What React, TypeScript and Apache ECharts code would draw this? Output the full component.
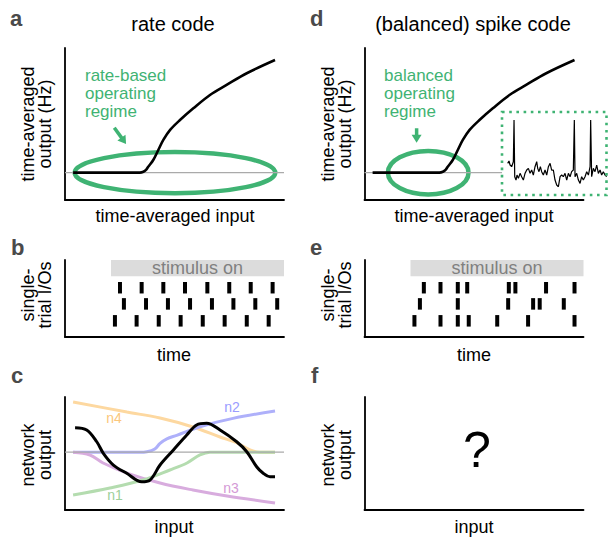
import React, { useEffect, useRef } from "react";
import * as echarts from "echarts";

const FONT = '"Liberation Sans", Arial, Helvetica, sans-serif';
const GREEN = "#3fb373";

// transfer curve (panels a and d)
const ioInput = [3.7, 34.2, 35.8, 37.0, 38.0, 40.3, 42.6, 44.9, 48.0, 52.5, 58.6, 66.2, 73.8, 83.0, 95.9];
const ioOutput = [18, 18, 18.6, 19.8, 21.9, 26.3, 32.9, 39.5, 46.1, 52.6, 60.3, 69.1, 75.7, 83.4, 92.1];
const restLevel = 18;
const baselineA = [0, 100];
const baselineD = [0, 62.8];

// membrane trace inset (panel d)
const vmTime = [0, 1.3, 2.4, 4.0, 5.7, 6.4, 7.1, 8.4, 9.4, 10.8, 12.5, 14.1, 15.8, 17.5, 19.2, 20.9, 22.6, 24.2, 25.9, 27.6, 29.3, 30.3, 31.6, 33.0, 34.3, 36.0, 37.7, 39.4, 41.1, 42.8, 44.4, 46.1, 47.8, 49.5, 51.2, 52.9, 54.5, 56.2, 57.9, 59.6, 61.3, 63.0, 64.6, 66.3, 67.3, 68.0, 69.7, 71.4, 73.1, 74.7, 76.4, 78.1, 79.8, 81.5, 83.2, 83.8, 84.8, 86.5, 88.2, 89.9, 91.6, 93.3, 94.9, 96.6, 98.3, 100];
const vmValue = [35, 38.5, 32.5, 30, 37.5, 100, 15, 10, 17.5, 12.5, 20, 15, 10, 20, 25, 27.5, 20, 25, 17.5, 30, 37.5, 27.5, 22.5, 30, 22.5, 17.5, 25, 17.5, 30, 35, 25, 25, 10, 2.5, 0, 15, 17.5, 15, 20, 10, 20, 15, 22.5, 25, 100, 15, 20, 10, 5, 15, 10, 15, 22.5, 17.5, 30, 100, 15, 27.5, 22.5, 32.5, 20, 25, 17.5, 22.5, 17.5, 15];

// spike rasters (panels b and e)
const trialLevels = [64, 43, 21];
const rateRow1 = [25.1, 35.0, 44.9, 54.8, 65.0, 75.0, 84.8, 94.8];
const rateRow2 = [26.9, 37.0, 47.0, 57.1, 67.1, 76.9, 86.9, 96.9];
const rateRow3 = [22.8, 32.7, 42.8, 52.8, 62.9, 72.9, 83.0, 93.0];
const spikeRow1 = [27.1, 34.7, 42.6, 46.9, 65.9, 68.9, 82.9, 95.9];
const spikeRow2 = [25.3, 42.6, 65.6, 77.0, 80.0, 91.0];
const spikeRow3 = [22.8, 34.7, 42.6, 47.6, 60.6, 74.7, 95.9];
const stimulusStart = 21;

// network output (panel c)
const n4Points = [[3.7, 95.6], [28.3, 86.7], [43.4, 81.4], [58.4, 73.5], [70.8, 64.6], [78.5, 59.3], [84.5, 53.1], [89.0, 51.2], [95.9, 51.2]];
const n2Points = [[3.7, 51], [34, 51], [37.4, 51.5], [41, 54], [43.4, 58.9], [46.5, 63], [51, 66.1], [61.6, 73.7], [76.7, 81.1], [95.9, 87.6]];
const n3Points = [[3.7, 51.2], [11.4, 48.7], [17.4, 41.6], [28.3, 32.7], [43.4, 23.9], [58.4, 17.7], [74, 12.4], [95.9, 6.2]];
const n1Points = [[3.7, 13.3], [20.5, 19.5], [35.6, 26.5], [47.9, 35.4], [55.7, 41.6], [61.6, 48.7], [66.2, 51.2], [95.9, 51.2]];
const netPoints = [[4.6, 72.8], [9.9, 70.8], [14.5, 60.4], [17.5, 50.2], [22.1, 39.8], [28.2, 32.5], [35.0, 25.0], [38.8, 26.5], [43.4, 39.8], [49.5, 53.1], [55.6, 66.4], [60.1, 75.2], [64.7, 76.7], [70.8, 70.8], [78.4, 60.4], [83.0, 51.6], [87.5, 38.3], [90.5, 32.5], [93.6, 29.5], [95.9, 29.5]];
const netBaseline = 51.2;

const grids = [
  { left: 65, top: 48, width: 219, height: 152 },
  { left: 364.5, top: 48, width: 219, height: 152 },
  { left: 65, top: 260, width: 219, height: 77 },
  { left: 364.5, top: 260, width: 219, height: 77 },
  { left: 65, top: 397, width: 219, height: 113 },
  { left: 364.5, top: 397, width: 219, height: 113 },
  { left: 507.7, top: 120, width: 99, height: 66.7 },
];

function axis(i: number) {
  return {
    gridIndex: i,
    type: "value",
    min: 0,
    max: 100,
    show: i < 6,
    axisLine: { onZero: false, lineStyle: { color: "#000", width: 1.8 } },
    axisTick: { show: false },
    axisLabel: { show: false },
    splitLine: { show: false },
  };
}

function line(g: number, data: number[][], color: string, width: number, smooth: number | boolean = 0.35) {
  return {
    type: "line",
    xAxisIndex: g,
    yAxisIndex: g,
    data,
    smooth,
    symbol: "none",
    silent: true,
    lineStyle: { color, width },
  };
}

function raster(g: number, row: number[], level: number, withStim: boolean) {
  const s: any = {
    type: "scatter",
    xAxisIndex: g,
    yAxisIndex: g,
    symbol: "rect",
    symbolSize: [4, 11.5],
    silent: true,
    itemStyle: { color: "#000", opacity: 1 },
    data: row.map((x) => [x, level]),
  };
  if (withStim) {
    s.markArea = {
      silent: true,
      itemStyle: { color: "#dcdcdc", opacity: 1 },
      label: { show: true, position: "inside", color: "#808080", fontSize: 18, fontFamily: FONT, formatter: "stimulus on" },
      data: [[{ coord: [stimulusStart, 79] }, { coord: [100, 100] }]],
    };
  }
  return s;
}

function buildOption() {
  const curve = ioInput.map((x, i) => [x, ioOutput[i]]);
  const series: any[] = [
    line(0, baselineA.map((x) => [x, restLevel]), "#aaaaaa", 1.2, false),
    line(0, curve, "#000", 2.6),
    line(1, baselineD.map((x) => [x, restLevel]), "#aaaaaa", 1.2, false),
    line(1, curve, "#000", 2.6),
    raster(2, rateRow1, trialLevels[0], true),
    raster(2, rateRow2, trialLevels[1], false),
    raster(2, rateRow3, trialLevels[2], false),
    raster(3, spikeRow1, trialLevels[0], true),
    raster(3, spikeRow2, trialLevels[1], false),
    raster(3, spikeRow3, trialLevels[2], false),
    line(4, n4Points, "#fdd8a0", 3),
    line(4, n2Points, "#aeb0fa", 3),
    line(4, n3Points, "#d8acde", 3),
    line(4, n1Points, "#b4dcaf", 3),
    line(4, [[0, netBaseline], [100, netBaseline]], "#aaaaaa", 1.2, false),
    line(4, netPoints, "#000", 3),
    line(6, vmTime.map((t, i) => [t, vmValue[i]]), "#000", 1.2, false),
  ];
  return {
    animation: false,
    backgroundColor: "#fff",
    grid: grids,
    xAxis: grids.map((_, i) => axis(i)),
    yAxis: grids.map((_, i) => axis(i)),
    series,
  };
}

function text(x: number, y: number, t: string, size: number, fill = "#000", opts: any = {}) {
  return {
    type: "text",
    x,
    y,
    rotation: opts.rotation || 0,
    z: 10,
    silent: true,
    style: {
      text: t,
      fontSize: size,
      fontFamily: FONT,
      fontWeight: opts.bold ? "bold" : "normal",
      fill,
      align: opts.align || "center",
      verticalAlign: "middle",
      lineHeight: opts.lineHeight || size,
    },
  };
}

function buildGraphics(chart: any) {
  const toPx = (g: number, p: number[]) => chart.convertToPixel({ gridIndex: g }, p) as number[];
  const els: any[] = [];
  const L = "#4a4a4a";
  // panel letters
  els.push(text(10, 18, "a", 22, L, { bold: true, align: "left" }));
  els.push(text(310, 18, "d", 22, L, { bold: true, align: "left" }));
  els.push(text(11, 247, "b", 22, L, { bold: true, align: "left" }));
  els.push(text(310, 247, "e", 22, L, { bold: true, align: "left" }));
  els.push(text(11, 375, "c", 22, L, { bold: true, align: "left" }));
  els.push(text(311, 375, "f", 22, L, { bold: true, align: "left" }));
  // titles
  els.push(text(173, 24, "rate code", 20));
  els.push(text(473, 24, "(balanced) spike code", 20));
  // x labels
  els.push(text(175, 216, "time-averaged input", 18));
  els.push(text(474, 216, "time-averaged input", 18));
  els.push(text(174, 355, "time", 18));
  els.push(text(474, 355, "time", 18));
  els.push(text(174, 527, "input", 18));
  els.push(text(474, 527, "input", 18));
  // y labels
  const rot = { rotation: Math.PI / 2, lineHeight: 17 };
  els.push(text(36, 124, "time-averaged\noutput (Hz)", 18, "#000", rot));
  els.push(text(336, 124, "time-averaged\noutput (Hz)", 18, "#000", rot));
  els.push(text(36, 295, "single-\ntrial I/Os", 18, "#000", rot));
  els.push(text(336, 295, "single-\ntrial I/Os", 18, "#000", rot));
  els.push(text(36, 455, "network\noutput", 18, "#000", rot));
  els.push(text(336, 455, "network\noutput", 18, "#000", rot));
  // green annotations
  els.push(text(85, 93.5, "rate-based\noperating\nregime", 17, GREEN, { align: "left", lineHeight: 18 }));
  els.push(text(384, 93.5, "balanced\noperating\nregime", 17, GREEN, { align: "left", lineHeight: 18 }));
  // neuron labels
  els.push(text(114, 418, "n4", 14, "#fbc77c"));
  els.push(text(232, 407, "n2", 14, "#9a9cff"));
  els.push(text(231, 488, "n3", 14, "#d49ad6"));
  els.push(text(115, 495, "n1", 14, "#9dd09a"));
  // question mark
  els.push(text(477, 450, "?", 50));

  // ellipses in data coords
  const ellipses = [
    { g: 0, cx: 50.2, cy: restLevel, rx: 45.8, ry: 13.5 },
    { g: 1, cx: 29.1, cy: restLevel, rx: 18.4, ry: 14.3 },
  ];
  ellipses.forEach((e) => {
    const c = toPx(e.g, [e.cx, e.cy]);
    const o = toPx(e.g, [e.cx + e.rx, e.cy + e.ry]);
    els.push({
      type: "ellipse",
      z: 1,
      silent: true,
      shape: { cx: c[0], cy: c[1], rx: o[0] - c[0], ry: c[1] - o[1] },
      style: { fill: "none", stroke: GREEN, lineWidth: 4.5 },
    });
  });

  // arrows
  const arrows = [
    { g: 0, from: [22.5, 47.6], to: [27.9, 36.8] },
    { g: 1, from: [23.8, 47.2], to: [23.8, 37.7] },
  ];
  arrows.forEach((a) => {
    const p0 = toPx(a.g, a.from);
    const p1 = toPx(a.g, a.to);
    const dx = p1[0] - p0[0];
    const dy = p1[1] - p0[1];
    const len = Math.sqrt(dx * dx + dy * dy);
    const ux = dx / len;
    const uy = dy / len;
    const hl = 8;
    const hw = 5;
    const bx = p1[0] - ux * hl;
    const by = p1[1] - uy * hl;
    els.push({
      type: "line",
      z: 5,
      silent: true,
      shape: { x1: p0[0], y1: p0[1], x2: bx + ux, y2: by + uy },
      style: { stroke: GREEN, lineWidth: 3.5 },
    });
    els.push({
      type: "polygon",
      z: 5,
      silent: true,
      shape: {
        points: [
          [p1[0], p1[1]],
          [bx - uy * hw, by + ux * hw],
          [bx + uy * hw, by - ux * hw],
        ],
      },
      style: { fill: GREEN },
    });
  });

  // dotted inset frame
  els.push({
    type: "rect",
    z: 4,
    silent: true,
    shape: { x: 502, y: 112, width: 104.5, height: 83 },
    style: { fill: "none", stroke: GREEN, lineWidth: 2.6, lineDash: [2.6, 4.6] },
  });
  return els;
}

export default function App() {
  const ref = useRef<HTMLDivElement>(null);
  useEffect(() => {
    document.body.style.margin = "0";
    const chart = echarts.init(ref.current!, null, { renderer: "svg" });
    chart.setOption(buildOption());
    chart.setOption({ graphic: buildGraphics(chart) });
    return () => chart.dispose();
  }, []);
  return <div ref={ref} style={{ position: "absolute", left: 0, top: 0, width: 608, height: 540 }} />;
}
